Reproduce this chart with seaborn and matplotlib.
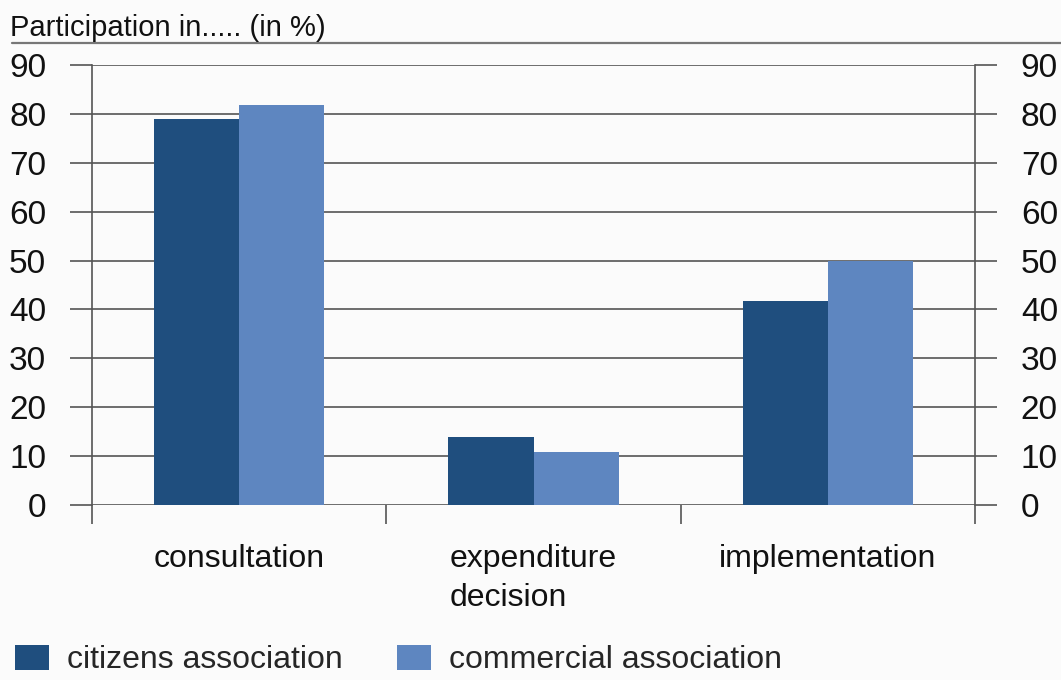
import matplotlib

matplotlib.use("Agg")
import matplotlib.pyplot as plt
from matplotlib.lines import Line2D
import pandas as pd
import seaborn as sns

# values
categories = ["consultation", "expenditure\ndecision", "implementation"]
series = ["citizens association", "commercial association"]
citizens = [79.0, 13.9, 41.7]
commercial = [81.8, 10.9, 49.9]
yticks = [0, 10, 20, 30, 40, 50, 60, 70, 80, 90]

DARK = "#1f4e7e"
LIGHT = "#5e86c0"
BG = "#fbfbfb"

df = pd.DataFrame(
    {
        "category": categories * 2,
        "group": [series[0]] * 3 + [series[1]] * 3,
        "value": citizens + commercial,
    }
)

sns.set_theme(style="white")
plt.rcParams["font.family"] = ["Liberation Sans", "DejaVu Sans"]

fig = plt.figure(figsize=(10.61, 6.8), dpi=100, facecolor=BG)
ax = fig.add_axes([92 / 1061, 175 / 680, (975 - 92) / 1061, 440 / 680])
ax.set_facecolor(BG)

sns.barplot(
    data=df,
    x="category",
    y="value",
    hue="group",
    order=categories,
    hue_order=series,
    palette=[DARK, LIGHT],
    width=0.578,
    saturation=1,
    linewidth=0,
    ax=ax,
    legend=False,
)

ax.set_xlim(-0.5, 2.5)
ax.set_ylim(0, 90)
ax.set_yticks(yticks)
ax.set_xlabel("")
ax.set_ylabel("")

# horizontal grid lines, behind the bars
ax.set_axisbelow(True)
ax.yaxis.grid(True, color="#555555", linewidth=1.2)
ax.xaxis.grid(False)

for side in ["left", "right"]:
    ax.spines[side].set_visible(True)
    ax.spines[side].set_color("#555555")
    ax.spines[side].set_linewidth(1.2)
ax.spines["top"].set_visible(False)
ax.spines["bottom"].set_visible(False)

ax.tick_params(
    axis="y",
    direction="out",
    length=16,
    width=1.2,
    color="#555555",
    left=True,
    right=True,
    labelleft=True,
    labelright=True,
    labelsize=24,
    labelcolor="#111111",
    pad=17,
)

# category separators below the zero line
ax.set_xticks([-0.5, 0.5, 1.5, 2.5], minor=True)
ax.tick_params(axis="x", which="minor", bottom=True, direction="out",
               length=14, width=1.2, color="#555555")
ax.tick_params(axis="x", which="major", length=0, pad=28, labelsize=23,
               labelcolor="#111111")
for lab in ax.get_xticklabels():
    lab.set_multialignment("left")
    lab.set_linespacing(1.4)
    lab.set_verticalalignment("top")

# subtitle and rule above the plot
fig.text(10 / 1061, 652 / 680, "Participation in..... (in %)", fontsize=21,
         color="#111111", va="center", ha="left")
fig.add_artist(Line2D([12 / 1061, 1.0], [637 / 680, 637 / 680],
                      transform=fig.transFigure, color="#777777", linewidth=1.6))

handles = [plt.Rectangle((0, 0), 1, 1, facecolor=c, edgecolor="none")
           for c in [DARK, LIGHT]]
fig.legend(
    handles,
    series,
    loc="lower left",
    bbox_to_anchor=(-0.007, -0.026),
    ncol=2,
    frameon=False,
    fontsize=23,
    handlelength=1.06,
    handleheight=0.81,
    handletextpad=0.56,
    columnspacing=1.71,
    borderaxespad=0.3,
)

fig.savefig("out.png", dpi=100, facecolor=BG)
